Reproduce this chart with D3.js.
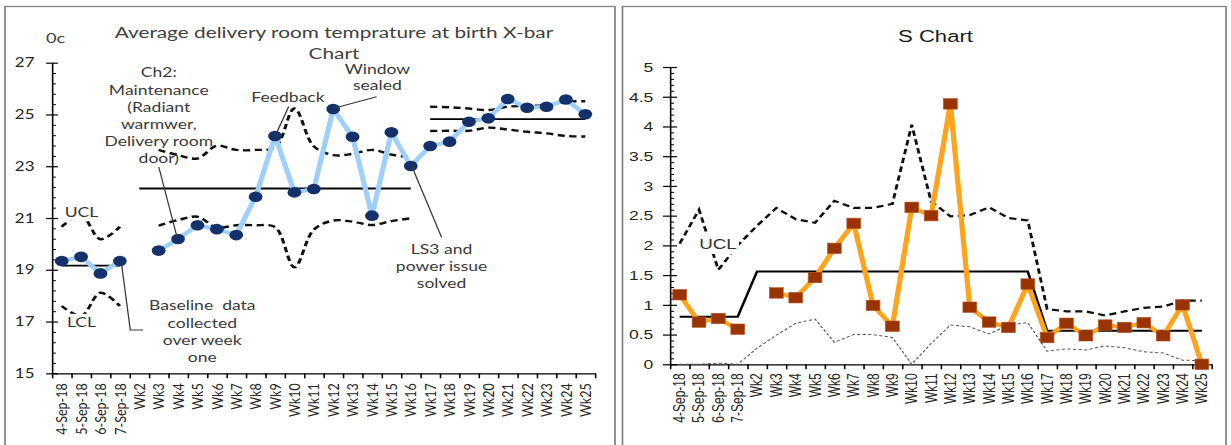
<!DOCTYPE html>
<html>
<head>
<meta charset="utf-8">
<script src="https://cdn.jsdelivr.net/npm/d3@7"></script>
<style>
  html, body { margin: 0; padding: 0; background: #fff; overflow: hidden; }
  svg { display: block; }
</style>
</head>
<body>
<svg id="chart"></svg>
<script>
// ---- data ----------------------------------------------------------------
const categories = ["4-Sep-18", "5-Sep-18", "6-Sep-18", "7-Sep-18",
  "Wk2", "Wk3", "Wk4", "Wk5", "Wk6", "Wk7", "Wk8", "Wk9", "Wk10", "Wk11", "Wk12",
  "Wk13", "Wk14", "Wk15", "Wk16", "Wk17", "Wk18", "Wk19", "Wk20", "Wk21", "Wk22",
  "Wk23", "Wk24", "Wk25"];

// X-bar chart: mean delivery room temperature (degrees C)
const tempMean = [19.34, 19.5, 18.86, 19.34, null, 19.74, 20.19, 20.72, 20.57, 20.34,
  21.82, 24.17, 21.99, 22.12, 25.21, 24.14, 21.09, 24.31, 23.01, 23.78, 23.95, 24.72,
  24.85, 25.6, 25.26, 25.3, 25.58, 25.01];
const tempPhase = [1, 1, 1, 1, 2, 2, 2, 2, 2, 2, 2, 2, 2, 2, 2, 2, 2, 2, 2,
  3, 3, 3, 3, 3, 3, 3, 3, 3];
const tempCentre = [19.16, 19.16, 19.16, 19.16, 22.14, 22.14, 22.14, 22.14, 22.14, 22.14,
  22.14, 22.14, 22.14, 22.14, 22.14, 22.14, 22.14, 22.14, 22.14, 24.82, 24.82, 24.82,
  24.82, 24.82, 24.82, 24.82, 24.82, 24.82];
const tempUCL = [20.66, 21.1, 20.18, 20.66, null, 23.63, 23.43, 23.3, 23.79, 23.63,
  23.63, 23.72, 25.23, 23.77, 23.43, 23.48, 23.63, 23.45, 23.35, 25.3, 25.28, 25.23,
  25.17, 25.3, 25.33, 25.36, 25.49, 25.51];
const tempLCL = [17.6, 17.22, 18.11, 17.6, null, 20.7, 20.92, 21.05, 20.63, 20.72,
  20.72, 20.65, 19.1, 20.55, 20.9, 20.86, 20.73, 20.88, 20.99, 24.36, 24.37, 24.37,
  24.49, 24.42, 24.33, 24.27, 24.17, 24.15];
const tempTicks = [15, 17, 19, 21, 23, 25, 27];

// S chart: standard deviation of the weekly temperatures
const sdValues = [1.17, 0.71, 0.77, 0.59, null, 1.2, 1.12, 1.46, 1.95, 2.37, 0.99, 0.64,
  2.64, 2.5, 4.38, 0.96, 0.71, 0.62, 1.35, 0.45, 0.69, 0.48, 0.66, 0.62, 0.7, 0.48,
  1.0, 0.0];
const sdCentre = [0.8, 0.8, 0.8, 0.8, 1.56, 1.56, 1.56, 1.56, 1.56, 1.56, 1.56, 1.56,
  1.56, 1.56, 1.56, 1.56, 1.56, 1.56, 1.56, 0.565, 0.565, 0.565, 0.565, 0.565, 0.565,
  0.565, 0.565, 0.565];
const sdUCL = [2.03, 2.6, 1.59, 2.0, 2.33, 2.63, 2.44, 2.38, 2.75, 2.63, 2.63, 2.7,
  4.03, 2.74, 2.49, 2.51, 2.64, 2.46, 2.42, 0.93, 0.89, 0.89, 0.82, 0.89, 0.95, 0.97,
  1.07, 1.07];
const sdLCL = [0, 0, 0.02, 0, 0.27, 0.49, 0.69, 0.76, 0.37, 0.5, 0.5, 0.45, 0.0, 0.35,
  0.66, 0.63, 0.51, 0.66, 0.7, 0.22, 0.26, 0.24, 0.31, 0.28, 0.21, 0.19, 0.07, 0.06];
const sdTicks = [0, 0.5, 1, 1.5, 2, 2.5, 3, 3.5, 4, 4.5, 5];

// ---- canvas --------------------------------------------------------------
// The drawing is laid out on a narrower canvas and stretched horizontally.
const W = 1231, H = 445, SX = 1.3;
const px = v => v / SX;
const svg = d3.select("#chart")
  .attr("width", W).attr("height", H)
  .attr("viewBox", `0 0 ${W / SX} ${H}`)
  .attr("preserveAspectRatio", "none");

const rows = categories.map((c, i) => ({
  c, i,
  mean: tempMean[i], phase: tempPhase[i], cl: tempCentre[i],
  ucl: tempUCL[i], lcl: tempLCL[i],
  s: sdValues[i], scl: sdCentre[i], sucl: sdUCL[i], slcl: sdLCL[i]
}));

// panel frames
svg.append("rect").attr("x", px(5)).attr("y", 6.5)
  .attr("width", px(615 - 5)).attr("height", 470)
  .attr("fill", "none").attr("stroke", "#7f7f7f").attr("stroke-width", 1.3);
svg.append("rect").attr("x", px(622.5)).attr("y", 6.5)
  .attr("width", px(1226 - 622.5)).attr("height", 470)
  .attr("fill", "none").attr("stroke", "#7f7f7f").attr("stroke-width", 1.3);

// shared axis builder --------------------------------------------------------
function drawAxes(g, x, y, opts) {
  const [x0, x1] = x.range();
  const y0 = y.range()[0];
  // y axis: labels + outer half of major ticks
  const ya = g.append("g").attr("transform", `translate(${x0},0)`)
    .call(d3.axisLeft(y).tickValues(opts.yTicks).tickSizeInner(opts.majorOut)
      .tickSizeOuter(0).tickPadding(opts.yPad).tickFormat(opts.yFormat));
  ya.select(".domain").attr("stroke", "#000").attr("stroke-width", 1.2);
  ya.selectAll(".tick line").attr("stroke", "#000").attr("stroke-width", 1.2);
  ya.selectAll(".tick text").attr("font-family", opts.font)
    .attr("font-size", opts.yFont).attr("fill", "#262626");
  // inner half of major ticks
  g.append("g").attr("transform", `translate(${x0},0)`)
    .call(d3.axisRight(y).tickValues(opts.yTicks).tickSizeInner(opts.majorIn)
      .tickSizeOuter(0).tickFormat(""))
    .call(s => s.select(".domain").remove())
    .selectAll(".tick line").attr("stroke", "#000").attr("stroke-width", 1.2);
  // minor ticks
  g.append("g").attr("transform", `translate(${x0},0)`)
    .call(d3.axisRight(y).tickValues(opts.minor).tickSizeInner(opts.minorLen)
      .tickSizeOuter(0).tickFormat(""))
    .call(s => s.select(".domain").remove())
    .selectAll(".tick line").attr("stroke", "#000").attr("stroke-width", 1);

  // x axis: category boundary ticks
  const edge = d3.scaleLinear().domain([0, categories.length]).range([x0, x1]);
  const xe = g.append("g").attr("transform", `translate(0,${y0})`)
    .call(d3.axisBottom(edge).tickValues(d3.range(categories.length + 1))
      .tickSizeInner(5).tickSizeOuter(0).tickFormat(""));
  xe.select(".domain").attr("stroke", "#000").attr("stroke-width", 1.2);
  xe.selectAll(".tick line").attr("stroke", "#000").attr("stroke-width", 1.2);
  // x axis: rotated category labels
  const xl = g.append("g").attr("transform", `translate(0,${y0})`)
    .call(d3.axisBottom(x).tickSize(0).tickPadding(0));
  xl.select(".domain").remove();
  xl.selectAll(".tick text")
    .attr("transform", "rotate(-90)")
    .attr("text-anchor", "end")
    .attr("x", -opts.xPad).attr("y", 0).attr("dy", "0.35em")
    .attr("font-family", opts.font).attr("font-size", opts.xFont)
    .attr("fill", "#262626");
}

function textBlock(g, lines, cx, cy0, step, font, size, fill) {
  const t = g.append("text").attr("font-family", font).attr("font-size", size)
    .attr("fill", fill).attr("text-anchor", "middle");
  lines.forEach((ln, k) => {
    t.append("tspan").attr("x", px(cx)).attr("y", cy0 + k * step).attr("dy", "0.35em")
      .attr("xml:space", "preserve").text(ln);
  });
  return t;
}

function pointer(g, pts, colour) {
  g.append("path")
    .attr("d", d3.line()(pts.map(p => [px(p[0]), p[1]])))
    .attr("fill", "none").attr("stroke", colour || "#3a3a3a").attr("stroke-width", 1);
}

function boxedLabel(g, label, cx, cy, w, h, font, size) {
  g.append("rect").attr("x", px(cx - w / 2)).attr("y", cy - h / 2)
    .attr("width", px(w)).attr("height", h).attr("fill", "#fff");
  g.append("text").attr("x", px(cx)).attr("y", cy).attr("dy", "0.35em")
    .attr("text-anchor", "middle").attr("font-family", font).attr("font-size", size)
    .attr("fill", "#333").text(label);
}

// ---- X-bar chart -----------------------------------------------------------
const LF = "Lato, 'Open Sans', sans-serif";
const gL = svg.append("g");
const xL = d3.scaleBand().domain(categories).range([px(52), px(595)]);
const yL = d3.scaleLinear().domain([15, 27]).range([373.3, 62.7]);
const cxL = c => xL(c) + xL.bandwidth() / 2;

drawAxes(gL, xL, yL, {
  yTicks: tempTicks, yFormat: d3.format("d"),
  minor: d3.range(15, 27.01, 0.4).filter(v => tempTicks.every(t => Math.abs(t - v) > 0.01)),
  majorOut: 4.5, majorIn: 4.5, minorLen: 3, yPad: 9, yFont: 13,
  xPad: 10, xFont: 12.5, font: LF
});

// title and unit
textBlock(gL, ["Average delivery room temprature at birth X-bar", "Chart"],
  334, 32, 21, LF, 16, "#404040");
gL.append("text").attr("x", px(46)).attr("y", 43).attr("font-family", LF)
  .attr("font-size", 14).attr("fill", "#404040").text("0c");

const phases = [1, 2, 3];
const smooth = d3.line().defined(d => d.v != null)
  .x(d => cxL(d.c)).y(d => yL(d.v)).curve(d3.curveCatmullRom.alpha(0.5));
const straight = d3.line().defined(d => d.v != null)
  .x(d => cxL(d.c)).y(d => yL(d.v));

phases.forEach(p => {
  const pr = rows.filter(r => r.phase === p);
  ["ucl", "lcl"].forEach(k => {
    gL.append("path")
      .attr("d", smooth(pr.filter(r => r[k] != null).map(r => ({ c: r.c, v: r[k] }))))
      .attr("fill", "none").attr("stroke", "#111").attr("stroke-width", 2.4)
      .attr("stroke-dasharray", "5.5,3.5");
  });
  gL.append("path")
    .attr("d", straight(pr.map(r => ({ c: r.c, v: r.cl }))))
    .attr("fill", "none").attr("stroke", "#000").attr("stroke-width", 1.8);
});

gL.append("path")
  .attr("d", straight(rows.map(r => ({ c: r.c, v: r.mean }))))
  .attr("fill", "none").attr("stroke", "#9fcffb").attr("stroke-width", 4)
  .attr("stroke-linejoin", "round");
gL.selectAll("circle.mean").data(rows.filter(r => r.mean != null)).join("circle")
  .attr("class", "mean")
  .attr("cx", r => cxL(r.c)).attr("cy", r => yL(r.mean)).attr("r", 5.3)
  .attr("fill", "#15316b");

// annotations
boxedLabel(gL, "UCL", 81.5, 212.3, 29, 17, LF, 13.5);
boxedLabel(gL, "LCL", 81.5, 322.3, 27, 17, LF, 13.5);
textBlock(gL, ["Ch2:", "Maintenance", "(Radiant", "warmwer,", "Delivery room", "door)"],
  158.8, 72.7, 17.2, LF, 13.5, "#3a3a3a");
pointer(gL, [[158.8, 167], [177, 237]]);
textBlock(gL, ["Feedback"], 288, 97.3, 17, LF, 13.5, "#3a3a3a");
pointer(gL, [[288.7, 106.5], [274.5, 137.5]]);
textBlock(gL, ["Window", "sealed"], 377.4, 69, 16.7, LF, 13.5, "#3a3a3a");
pointer(gL, [[376.6, 96.7], [333.8, 108.3]]);
textBlock(gL, ["Baseline  data", "collected", "over week", "one"],
  202.3, 305.7, 17.2, LF, 13.5, "#3a3a3a");
pointer(gL, [[121.8, 265.7], [130.3, 330], [143.2, 330]]);
textBlock(gL, ["LS3 and", "power issue", "solved"], 441.6, 249.3, 16.9, LF, 13.5, "#3a3a3a");
pointer(gL, [[411.7, 166], [441.6, 237.3]]);

// ---- S chart -----------------------------------------------------------------
const RF = "'Liberation Sans', Arial, sans-serif";
const gR = svg.append("g");
const xR = d3.scaleBand().domain(categories).range([px(670), px(1211.5)]);
const yR = d3.scaleLinear().domain([0, 5]).range([364.3, 67]);
const cxR = c => xR(c) + xR.bandwidth() / 2;

drawAxes(gR, xR, yR, {
  yTicks: sdTicks, yFormat: d => String(d),
  minor: d3.range(0, 5.001, 0.1).filter(v => sdTicks.every(t => Math.abs(t - v) > 0.01)),
  majorOut: 5.4, majorIn: 5.4, minorLen: 3.2, yPad: 7.4, yFont: 13.5,
  xPad: 9, xFont: 12, font: RF
});

gR.append("text").attr("x", px(935.5)).attr("y", 41.8).attr("text-anchor", "middle")
  .attr("font-family", RF).attr("font-size", 17).attr("fill", "#1a1a1a").text("S Chart");

const lineR = k => d3.line().defined(d => d[k] != null)
  .x(d => cxR(d.c)).y(d => yR(d[k]))(rows);

gR.append("path").attr("d", lineR("slcl"))
  .attr("fill", "none").attr("stroke", "#5a5a5a").attr("stroke-width", 1)
  .attr("stroke-dasharray", "2.5,1.8");
gR.append("path").attr("d", lineR("sucl"))
  .attr("fill", "none").attr("stroke", "#111").attr("stroke-width", 2.2)
  .attr("stroke-dasharray", "5.5,3.5");
gR.append("path").attr("d", lineR("scl"))
  .attr("fill", "none").attr("stroke", "#000").attr("stroke-width", 2);
gR.append("path").attr("d", lineR("s"))
  .attr("fill", "none").attr("stroke", "#ffa31a").attr("stroke-width", 4)
  .attr("stroke-linejoin", "round");
const sq = 10.5;
gR.selectAll("rect.sd").data(rows.filter(r => r.s != null)).join("rect")
  .attr("class", "sd")
  .attr("x", r => cxR(r.c) - sq / 2).attr("y", r => yR(r.s) - sq / 2)
  .attr("width", sq).attr("height", sq)
  .attr("fill", "#993300").attr("stroke", "#b2582a").attr("stroke-width", 0.6);

boxedLabel(gR, "UCL", 718, 244, 42, 20, RF, 14.5);
</script>
</body>
</html>
